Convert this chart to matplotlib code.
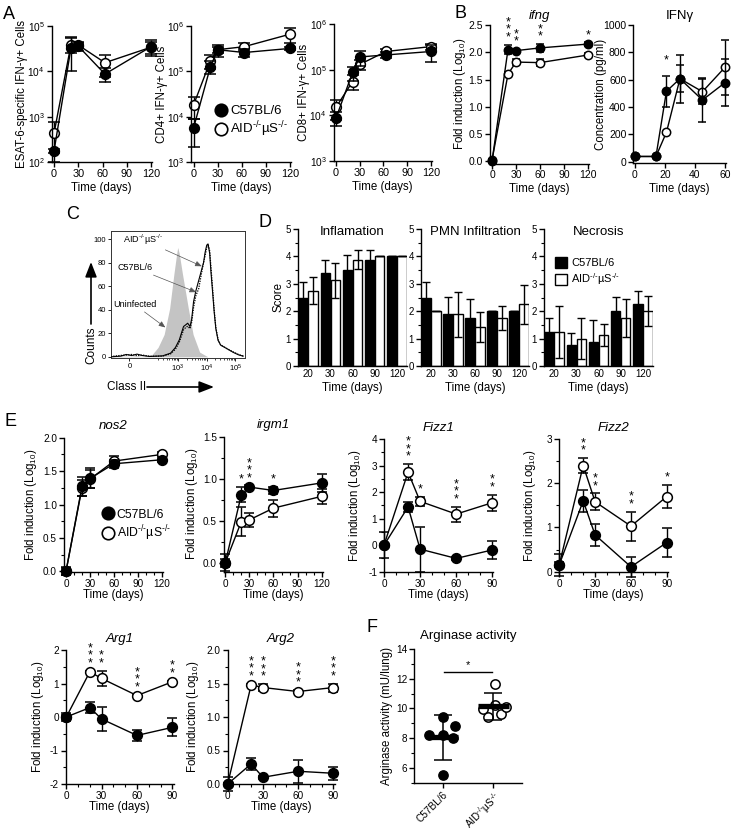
import numpy as np
import matplotlib
matplotlib.use('Agg')
import matplotlib.pyplot as plt
from matplotlib.lines import Line2D
from matplotlib.patches import Patch
from matplotlib.ticker import FixedLocator, NullLocator, MultipleLocator, FormatStrFormatter

plt.rcParams.update({
    'font.family': ['Liberation Sans', 'DejaVu Sans'],
    'mathtext.fontset': 'custom',
    'mathtext.rm': 'Liberation Sans',
    'mathtext.it': 'Liberation Sans:italic',
    'mathtext.bf': 'Liberation Sans:bold',
    'axes.linewidth': 1.0,
    'xtick.major.width': 1.0, 'ytick.major.width': 1.0,
    'xtick.minor.width': 0.8, 'ytick.minor.width': 0.8,
    'xtick.major.size': 3.5, 'ytick.major.size': 3.5,
    'xtick.minor.size': 2, 'ytick.minor.size': 2,
    'xtick.major.pad': 1.5, 'ytick.major.pad': 1.5,
    'axes.labelpad': 2,
})

W, H = 734, 834
fig = plt.figure(figsize=(W / 100, H / 100), dpi=100)

B6 = 'C57BL/6'
AID = r'AID$^{\text{-/-}}$µS$^{\text{-/-}}$'
LOG10 = 'Fold induction (Log$_{10}$)'
TIME = 'Time (days)'

# ---------------- data ----------------
# Panel A
a_days = [0, 21, 30, 63, 120]
esat_b6 = [175, 3.3e4, 3.6e4, 8.7e3, 3.5e4]
esat_b6_sem = [20, 2.3e4, 8e3, 3e3, 1.3e4]
esat_aid = [430, 3.9e4, 3.8e4, 1.55e4, 3.4e4]
esat_aid_sem = [330, 1.4e4, 5e3, 8e3, 1e4]
cd4_b6 = [5.6e3, 1.26e5, 3.0e5, 2.6e5, 3.2e5]
cd4_b6_sem = [3.5e3, 4e4, 9e4, 5e4, 3e4]
cd4_aid = [1.8e4, 1.7e5, 3.0e5, 3.5e5, 6.6e5]
cd4_aid_sem = [9e3, 6e4, 5e4, 7e4, 2.3e5]
cd8_b6 = [8.7e3, 8.7e4, 1.9e5, 2.1e5, 2.5e5]
cd8_b6_sem = [3e3, 3e4, 7e4, 3e4, 1e5]
cd8_aid = [1.5e4, 5.5e4, 1.3e5, 2.5e5, 3.2e5]
cd8_aid_sem = [7e3, 2e4, 3e4, 4e4, 5e4]

# Panel B
b_days = [0, 20, 30, 60, 120]
ifng_b6 = [0.0, 2.05, 2.03, 2.08, 2.15]
ifng_b6_sem = [0.02, 0.09, 0.03, 0.07, 0.03]
ifng_aid = [0.02, 1.60, 1.82, 1.81, 1.95]
ifng_aid_sem = [0.02, 0.03, 0.06, 0.06, 0.03]
ifng_stars = [0, 3, 2, 2, 1]

ifn_days = [0, 14, 21, 30, 45, 60]
ifn_b6 = [38, 38, 515, 607, 451, 578]
ifn_b6_sem = [0, 0, 113, 175, 160, 173]
ifn_aid = [38, 38, 215, 607, 512, 690]
ifn_aid_sem = [0, 0, 10, 98, 90, 200]
ifn_stars = [0, 0, 1, 0, 0, 0]

# Panel C (flow cytometry histogram, counts vs Class II)
uninf_x = [-95, -60, -30, 0, 30, 60, 90, 115, 200, 327, 508, 714, 900, 977, 1100, 1440, 2300, 3370, 5700, 11000]
uninf_y = [0.5, 1.0, 0.6, 0.4, 0.8, 0.5, 0.6, 1, 8, 19, 41, 70, 88, 93, 88, 70, 41, 19, 4, 0]
c57_x = [-93, -43, -16, 11, 38, 65, 101, 287, 550, 810, 1110, 1370, 1560, 1860, 2180, 2620, 2980, 3500,
         4200, 5300, 6500, 7800, 8880, 10100, 11200, 12800, 14200, 16200, 18400, 21000, 25100, 31000,
         52000, 87000, 130000, 190000]
c57_y = [0, 0.6, 2, 1.1, 2.3, 1.1, 0.3, 0.8, 3.1, 7.9, 14.4, 21.5, 25.8, 27.2, 28.6, 25.8, 31.4, 47,
         56, 65, 73, 80, 89, 95, 96, 88, 72, 55, 38, 24, 14, 10, 6.8, 3.7, 1.7, 0.6]
aid_x = [-93, -43, -16, 11, 38, 65, 101, 287, 550, 810, 1110, 1370, 1560, 1860, 2180, 2620, 2980, 3500,
         4200, 5300, 6500, 7800, 8880, 10100, 11200, 12800, 14200, 16200, 18400, 21000, 25100, 31000,
         52000, 87000, 130000, 190000]
aid_y = [0.3, 1.2, 1.5, 2.0, 1.0, 1.5, 0.5, 0.6, 2.5, 6.5, 12.5, 19, 23, 25, 26, 24, 29, 42,
         52, 58, 70, 80, 86, 93, 96, 90, 76, 58, 40, 25, 15, 10, 7, 4, 2, 0.6]

# Panel D (histology scores)
d_days = ['20', '30', '60', '90', '120']
infl_b6 = [2.5, 3.38, 3.5, 3.88, 4.0]
infl_b6_sd = [0.58, 0.49, 0.54, 0.34, 0.0]
infl_aid = [2.75, 3.13, 3.88, 4.0, 4.0]
infl_aid_sd = [0.48, 0.63, 0.35, 0.0, 0.0]
pmn_b6 = [2.5, 1.88, 1.75, 2.0, 2.0]
pmn_b6_sd = [0.56, 0.63, 0.69, 0.0, 0.0]
pmn_aid = [2.0, 1.88, 1.42, 1.75, 2.25]
pmn_aid_sd = [0.0, 0.83, 0.54, 0.45, 0.71]
necr_b6 = [1.25, 0.75, 0.875, 2.0, 2.25]
necr_b6_sd = [0.49, 0.47, 0.8, 0.51, 0.47]
necr_aid = [1.25, 1.0, 1.13, 1.75, 2.0]
necr_aid_sd = [0.95, 0.74, 0.4, 0.7, 0.54]

# Panel E
e_days_long = [0, 20, 30, 60, 120]
e_days = [0, 20, 30, 60, 90]
nos2_b6 = [0.0, 1.27, 1.39, 1.61, 1.67]
nos2_b6_sem = [0.06, 0.14, 0.15, 0.06, 0.03]
nos2_aid = [0.0, 1.25, 1.38, 1.65, 1.75]
nos2_aid_sem = [0.05, 0.12, 0.14, 0.08, 0.03]
nos2_stars = [0, 0, 0, 0, 0]
irgm1_b6 = [0.0, 0.81, 0.90, 0.86, 0.95]
irgm1_b6_sem = [0.1, 0.09, 0.02, 0.04, 0.11]
irgm1_aid = [0.0, 0.49, 0.51, 0.65, 0.79]
irgm1_aid_sem = [0.05, 0.17, 0.08, 0.1, 0.09]
irgm1_stars = [0, 1, 3, 1, 0]
fizz1_b6 = [0.0, 1.44, -0.15, -0.5, -0.18]
fizz1_b6_sem = [0.5, 0.18, 0.85, 0.05, 0.33]
fizz1_aid = [0.0, 2.75, 1.65, 1.17, 1.6]
fizz1_aid_sem = [0.05, 0.3, 0.18, 0.28, 0.3]
fizz1_stars = [0, 3, 1, 3, 2]
fizz2_b6 = [0.16, 1.6, 0.83, 0.11, 0.66]
fizz2_b6_sem = [0.25, 0.25, 0.25, 0.22, 0.33]
fizz2_aid = [0.16, 2.4, 1.58, 1.03, 1.7]
fizz2_aid_sem = [0.05, 0.17, 0.19, 0.33, 0.26]
fizz2_stars = [0, 2, 2, 2, 1]
arg1_b6 = [0.0, 0.28, -0.06, -0.55, -0.31]
arg1_b6_sem = [0.12, 0.16, 0.35, 0.17, 0.27]
arg1_aid = [0.0, 1.35, 1.15, 0.64, 1.05]
arg1_aid_sem = [0.05, 0.03, 0.23, 0.03, 0.03]
arg1_stars = [0, 3, 2, 3, 2]
arg2_b6 = [0.0, 0.30, 0.10, 0.19, 0.16]
arg2_b6_sem = [0.1, 0.09, 0.02, 0.17, 0.1]
arg2_aid = [0.0, 1.48, 1.44, 1.38, 1.44]
arg2_aid_sem = [0.02, 0.02, 0.05, 0.02, 0.06]
arg2_stars = [0, 3, 3, 3, 3]

# Panel F (arginase activity, mU/lung)
f_groups = [B6, AID]
f_b6 = [9.45, 8.8, 8.2, 8.2, 8.0, 5.5]
f_aid = [11.65, 10.25, 9.95, 9.45, 9.6, 10.1]
f_mean = [8.05, 10.15]
f_sd = [1.5, 0.9]

# ---------------- helpers ----------------
def add_ax(l, t, r, b):
    ax = fig.add_axes([l / W, 1 - b / H, (r - l) / W, (b - t) / H])
    ax._px = (l, r)
    return ax


def ylab(ax, text, right_px, fs=8.3):
    ax.set_ylabel(text, fontsize=fs)
    l, r = ax._px
    ax.yaxis.set_label_coords((right_px - l) / (r - l), 0.5)


def style(ax, fs=7.5):
    for s in ('top', 'right'):
        ax.spines[s].set_visible(False)
    ax.tick_params(labelsize=fs, direction='out')


def series(ax, x, y, e, filled, ms=6.5, cap=3.5, log=False, z=2):
    y = np.asarray(y, float)
    e = np.asarray(e, float)
    lo = np.minimum(e, y * 0.95) if log else e
    cont = ax.errorbar(x, y, yerr=[lo, e], fmt='-o', color='k', mfc='k' if filled else 'white',
                       mec='k', ms=ms, mew=1.1, lw=1.0, elinewidth=1.0, capsize=cap, capthick=1.0,
                       zorder=z)
    for art in cont.get_children():
        art.set_clip_on(False)


def line_panel(ax, x, b6, b6e, aid, aide, ms=6.5, cap=3.5, log=False):
    series(ax, x, aid, aide, False, ms, cap, log, z=2)
    series(ax, x, b6, b6e, True, ms, cap, log, z=3)


def stars(ax, x, b6, b6e, aid, aide, counts, fs=9, off=1):
    for xi, a, ae, c, ce, n in zip(x, b6, b6e, aid, aide, counts):
        if n:
            top = max(a + ae, c + ce)
            ax.annotate('\n'.join('*' * n), (xi, top), xytext=(0, off), textcoords='offset points',
                        ha='center', va='bottom', fontsize=fs, linespacing=0.5)


# ---------------- Panel A ----------------
a_specs = [
    ((51.6, 26, 151.8, 162), esat_b6, esat_b6_sem, esat_aid, esat_aid_sem, (1e2, 1e5),
     'ESAT-6-specific IFN-γ+ Cells', 28.5),
    ((191.1, 26, 290.8, 162), cd4_b6, cd4_b6_sem, cd4_aid, cd4_aid_sem, (1e3, 1e6),
     'CD4+ IFN-γ+ Cells', 167.5),
    ((333.6, 24, 431.8, 161), cd8_b6, cd8_b6_sem, cd8_aid, cd8_aid_sem, (1e3, 1e6),
     'CD8+ IFN-γ+ Cells', 310),
]
axA = []
for box, b6, b6e, aid, aide, yl, lab, lx in a_specs:
    ax = add_ax(*box)
    style(ax, 7.3)
    ax.set_yscale('log')
    line_panel(ax, a_days, b6, b6e, aid, aide, ms=7, cap=4.5, log=True)
    ax.set_ylim(*yl)
    ax.set_xlim(-3, 121)
    ax.set_xticks([0, 30, 60, 90, 120])
    ax.tick_params(axis='x', labelsize=7.8)
    ax.yaxis.set_minor_locator(NullLocator())
    ylab(ax, lab, lx)
    ax.set_xlabel(TIME, fontsize=8.3)
    axA.append(ax)

handles = [Line2D([], [], marker='o', ls='none', color='k', mfc='k', ms=9, mew=1.2),
           Line2D([], [], marker='o', ls='none', color='k', mfc='white', ms=9, mew=1.2)]
axA[1].legend(handles, [B6, AID], loc='upper left', bbox_to_anchor=(214 / W, 1 - 105 / H),
              bbox_transform=fig.transFigure, frameon=False, borderpad=0, borderaxespad=0,
              handletextpad=0.25, handlelength=1.0, labelspacing=0.2, fontsize=9.5)

# ---------------- Panel B ----------------
ax = add_ax(490, 25, 588.8, 163.5)
style(ax, 7.5)
line_panel(ax, b_days, ifng_b6, ifng_b6_sem, ifng_aid, ifng_aid_sem, ms=6, cap=3)
stars(ax, b_days, ifng_b6, ifng_b6_sem, ifng_aid, ifng_aid_sem, ifng_stars)
ax.set_xlim(-2.5, 121)
ax.set_ylim(-0.04, 2.5)
ax.set_xticks([0, 30, 60, 90, 120])
ax.set_yticks([0, 0.5, 1.0, 1.5, 2.0, 2.5])
ax.yaxis.set_major_formatter(FormatStrFormatter('%.1f'))
ylab(ax, LOG10, 468)
ax.set_xlabel(TIME, fontsize=8.3)
ax.set_title('ifng', fontsize=9.5, style='italic', pad=4)

ax = add_ax(633.3, 25, 726, 163.3)
style(ax, 7.5)
line_panel(ax, ifn_days, ifn_b6, ifn_b6_sem, ifn_aid, ifn_aid_sem, ms=6, cap=3)
stars(ax, ifn_days, ifn_b6, ifn_b6_sem, ifn_aid, ifn_aid_sem, ifn_stars, off=7)
ax.set_xlim(-1.1, 60.7)
ax.set_ylim(-12, 1000)
ax.set_xticks([0, 20, 40, 60])
ax.set_yticks([0, 200, 400, 600, 800, 1000])
ylab(ax, 'Concentration (pg/ml)', 607)
ax.set_xlabel(TIME, fontsize=8.3)
ax.set_title('IFNγ', fontsize=9.5, pad=4)

# ---------------- Panel C ----------------
axC = add_ax(111, 231, 245, 358)
axC.set_xscale('symlog', linthresh=100, linscale=0.63)
axC.fill_between(uninf_x, uninf_y, 0, color='#c4c4c4', lw=0, zorder=1)
axC.plot(aid_x, aid_y, color='k', lw=0.9, ls=(0, (1, 1)), zorder=2)
axC.plot(c57_x, c57_y, color='k', lw=0.8, zorder=3)
axC.set_xlim(-92, 2.2e5)
axC.set_ylim(-1, 107)
axC.set_xticks([0, 1e3, 1e4, 1e5])
axC.set_xticklabels(['0', '10$^3$', '10$^4$', '10$^5$'])
axC.xaxis.set_minor_locator(FixedLocator([m * 10 ** e for e in (2, 3, 4) for m in range(2, 10)]))
axC.set_yticks([0, 20, 40, 60, 80, 100])
axC.tick_params(labelsize=5.5, length=2, width=0.6, pad=1.5)
axC.tick_params(which='minor', length=1.2, width=0.5)
for s in axC.spines.values():
    s.set_linewidth(0.7)
    s.set_color('#333333')
ann = dict(arrowstyle='-|>,head_length=0.6,head_width=0.25', color='#555555', lw=0.5,
           shrinkA=0, shrinkB=0)
axC.annotate(AID, xy=(6800, 77), xytext=(0.09, 0.93), textcoords='axes fraction', fontsize=6.5,
             va='center', arrowprops=ann)
axC.annotate(B6, xy=(4300, 55), xytext=(0.05, 0.71), textcoords='axes fraction', fontsize=6.5,
             va='center', arrowprops=ann)
axC.annotate('Uninfected', xy=(360, 25), xytext=(0.015, 0.42), textcoords='axes fraction',
             fontsize=6.5, va='center', arrowprops=ann)
big = dict(arrowstyle='-|>,head_length=0.9,head_width=0.35', color='k', lw=1.2, shrinkA=0, shrinkB=0)
axC.annotate('', xy=(91, H - 262), xytext=(91, H - 324), xycoords='figure pixels',
             textcoords='figure pixels', arrowprops=big, annotation_clip=False)
fig.text(91 / W, 1 - 345 / H, 'Counts', rotation=90, ha='center', va='center', fontsize=8.5)
axC.annotate('', xy=(214, H - 387), xytext=(147, H - 387), xycoords='figure pixels',
             textcoords='figure pixels', arrowprops=big, annotation_clip=False)
fig.text(127 / W, 1 - 387 / H, 'Class II', ha='center', va='center', fontsize=8.5)

# ---------------- Panel D ----------------
d_specs = [(298, 407, infl_b6, infl_b6_sd, infl_aid, infl_aid_sd, 'Inflamation'),
           (421, 529, pmn_b6, pmn_b6_sd, pmn_aid, pmn_aid_sd, 'PMN Infiltration'),
           (544, 653, necr_b6, necr_b6_sd, necr_aid, necr_aid_sd, 'Necrosis')]
axD = []
for l, r, b6, b6e, aid, aide, title in d_specs:
    ax = add_ax(l, 229, r, 366)
    style(ax, 7)
    x = np.arange(len(d_days))
    ek = dict(elinewidth=1.0, capthick=1.0, ecolor='k')
    ax.bar(x - 0.225, b6, 0.42, color='k', edgecolor='k', lw=1.0, yerr=b6e, capsize=3, error_kw=ek)
    ax.bar(x + 0.225, aid, 0.42, color='white', edgecolor='k', lw=1.0, yerr=aide, capsize=3,
           error_kw=ek)
    ax.set_xlim(-0.45, 4.45)
    ax.set_ylim(0, 5)
    ax.set_xticks(x)
    ax.set_xticklabels(d_days)
    ax.tick_params(axis='x', length=0, pad=2)
    ax.yaxis.set_minor_locator(MultipleLocator(0.5))
    ax.set_xlabel(TIME, fontsize=8.3)
    ax.text(0.5, 0.98, title, transform=ax.transAxes, ha='center', va='center', fontsize=9.5)
    axD.append(ax)
ylab(axD[0], 'Score', 285)
dh = [Patch(facecolor='k', edgecolor='k', lw=1), Patch(facecolor='white', edgecolor='k', lw=1)]
axD[2].legend(dh, [B6, AID], loc='upper left', bbox_to_anchor=(555 / W, 1 - 257 / H),
              bbox_transform=fig.transFigure, frameon=False, borderpad=0, borderaxespad=0,
              handletextpad=0.35, handlelength=1.1, handleheight=1.1, labelspacing=0.3, fontsize=8)

# ---------------- Panel E ----------------
e_specs = [
    ((64, 437.7, 163, 572), e_days_long, nos2_b6, nos2_b6_sem, nos2_aid, nos2_aid_sem, nos2_stars,
     (-0.01, 2.0), [0, 0.5, 1.0, 1.5, 2.0], '%.1f', (-2.5, 121.2), [0, 30, 60, 90, 120], 'nos2', 39),
    ((224, 436.7, 322.5, 571.7), e_days_long, irgm1_b6, irgm1_b6_sem, irgm1_aid, irgm1_aid_sem,
     irgm1_stars, (-0.107, 1.5), [0, 0.5, 1.0, 1.5], '%.1f', (-1.6, 121), [0, 30, 60, 90, 120],
     'irgm1', 200),
    ((384, 439, 493.5, 571.7), e_days, fizz1_b6, fizz1_b6_sem, fizz1_aid, fizz1_aid_sem, fizz1_stars,
     (-1, 4), [-1, 0, 1, 2, 3, 4], '%d', (0, 91), [0, 30, 60, 90], 'Fizz1', 363),
    ((559.3, 439, 668, 571.7), e_days, fizz2_b6, fizz2_b6_sem, fizz2_aid, fizz2_aid_sem, fizz2_stars,
     (0, 3), [0, 1, 2, 3], '%d', (0, 91), [0, 30, 60, 90], 'Fizz2', 538),
    ((65.7, 650, 173.5, 784), e_days, arg1_b6, arg1_b6_sem, arg1_aid, arg1_aid_sem, arg1_stars,
     (-2, 2), [-2, -1, 0, 1, 2], '%d', (-0.5, 91), [0, 30, 60, 90], 'Arg1', 46),
    ((227.7, 650, 334.5, 784), e_days, arg2_b6, arg2_b6_sem, arg2_aid, arg2_aid_sem, arg2_stars,
     (0, 2), [0, 0.5, 1.0, 1.5, 2.0], '%.1f', (0, 91), [0, 30, 60, 90], 'Arg2', 201),
]
axE = []
for box, xd, b6, b6e, aid, aide, st, yl, yt, fmt, xl, xt, title, lx in e_specs:
    ax = add_ax(*box)
    style(ax, 7.2)
    line_panel(ax, xd, b6, b6e, aid, aide, ms=7, cap=3.5)
    stars(ax, xd, b6, b6e, aid, aide, st)
    ax.set_ylim(*yl)
    ax.set_xlim(*xl)
    ax.set_yticks(yt)
    ax.yaxis.set_major_formatter(FormatStrFormatter(fmt))
    ax.set_xticks(xt)
    ax.xaxis.set_minor_locator(MultipleLocator(10))
    ax.yaxis.set_minor_locator(MultipleLocator((yt[1] - yt[0]) / 2))
    ylab(ax, LOG10, lx)
    ax.set_xlabel(TIME, fontsize=8.3, labelpad=0)
    ax.set_title(title, fontsize=9.5, style='italic', pad=6)
    axE.append(ax)
axE[0].legend(handles, [B6, AID], loc='upper left', bbox_to_anchor=(101.5 / W, 1 - 508.5 / H),
              bbox_transform=fig.transFigure, frameon=False, borderpad=0, borderaxespad=0,
              handletextpad=0.25, handlelength=1.0, labelspacing=0.2, fontsize=8.8)

# ---------------- Panel F ----------------
ax = add_ax(414.3, 649, 521.7, 782.7)
style(ax, 7.2)
b6_off = [0.0, 0.24, -0.26, 0.0, 0.2, 0.0]
aid_off = [0.03, 0.03, -0.2, -0.1, 0.16, 0.25]
ax.scatter(np.array(b6_off), f_b6, s=45, facecolor='k', edgecolor='k', lw=1.0, zorder=2, clip_on=False)
ax.scatter(1 + np.array(aid_off), f_aid, s=45, facecolor='white', edgecolor='k', lw=1.1, zorder=2,
           clip_on=False)
for i in range(2):
    ax.plot([i - 0.3, i + 0.3], [f_mean[i], f_mean[i]], color='k', lw=3.8, solid_capstyle='butt',
            zorder=3)
    ax.errorbar([i], [f_mean[i]], yerr=[f_sd[i]], color='k', capsize=6.5, elinewidth=1.1,
                capthick=1.1, zorder=3)
ax.plot([0.02, 0.97], [12.42, 12.42], color='k', lw=1.0)
ax.text(0.5, 12.55, '*', ha='center', va='bottom', fontsize=8)
ax.set_xlim(-0.56, 1.56)
ax.set_ylim(5, 14)
ax.set_yticks([6, 8, 10, 12, 14])
ax.yaxis.set_minor_locator(MultipleLocator(1))
ax.set_xticks([0, 1])
ax.set_xticklabels(f_groups, rotation=45, ha='right', rotation_mode='anchor', fontsize=7.2)
ylab(ax, 'Arginase activity (mU/lung)', 393)
ax.set_title('Arginase activity', fontsize=9.5, pad=7)

# ---------------- Panel letters ----------------
for lt, (px, py) in zip('ABCDEF', [(3, 6), (455, 5), (66, 206), (259, 214), (4, 413), (367, 619)]):
    fig.text(px / W, 1 - py / H, lt, fontsize=13, ha='left', va='top')

fig.savefig('out.png', dpi=100)
